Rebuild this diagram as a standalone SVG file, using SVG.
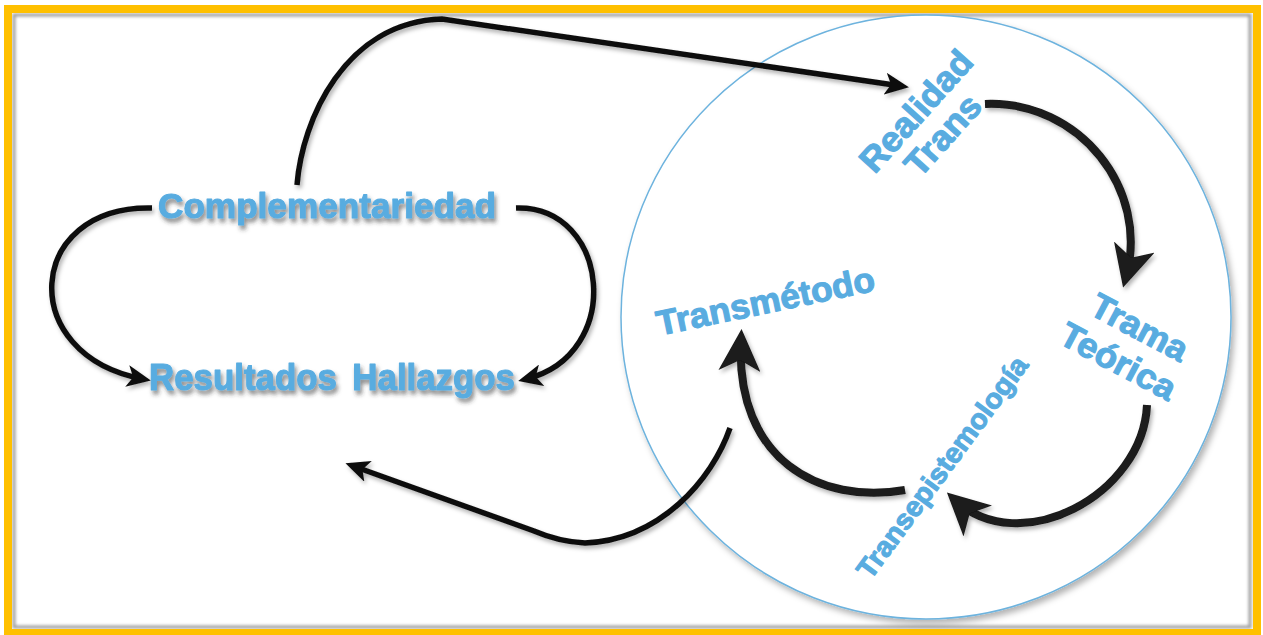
<svg xmlns="http://www.w3.org/2000/svg" width="1263" height="635" viewBox="0 0 1263 635">
<style>
.lbl{font-family:"Liberation Sans",Arial,sans-serif;font-weight:bold;fill:#59ACE0;stroke:#59ACE0;stroke-width:1.1;stroke-linejoin:round;text-anchor:middle}
.ln{fill:none;stroke:#111;stroke-width:5.5}
.lnL{fill:none;stroke:#1a1a1a;stroke-width:8}
</style>
<defs>
<filter id="sh" x="-10%" y="-10%" width="130%" height="140%"><feDropShadow dx="2" dy="4" stdDeviation="2" flood-color="#333" flood-opacity="0.55"/></filter>
<filter id="ash" x="-10%" y="-10%" width="130%" height="130%"><feDropShadow dx="2" dy="3" stdDeviation="2" flood-color="#000" flood-opacity="0.3"/></filter>
<filter id="csh" x="-5%" y="-5%" width="115%" height="115%"><feDropShadow dx="3" dy="4" stdDeviation="3" flood-color="#000" flood-opacity="0.3"/></filter>
<filter id="fb"><feGaussianBlur stdDeviation="1.5"/></filter>
<marker id="ah" viewBox="0 0 24 22" refX="16" refY="11" markerWidth="24" markerHeight="22" markerUnits="userSpaceOnUse" orient="auto"><path d="M0,0 L24,11 L0,22 L6,11 z" fill="#111"/></marker>
<marker id="ahL" viewBox="0 0 42 42" refX="31" refY="21" markerWidth="42" markerHeight="42" markerUnits="userSpaceOnUse" orient="auto"><path d="M0,0 L42,21 L0,42 L11,21 z" fill="#1a1a1a"/></marker>
</defs>
<rect width="1263" height="635" fill="#fff"/>
<rect x="14" y="15" width="1236" height="612" fill="none" stroke="#9a9a9a" stroke-width="3" filter="url(#fb)"/>
<rect x="8" y="9" width="1249" height="624" fill="none" stroke="#FFC000" stroke-width="8"/>
<g id="circle"><ellipse cx="926" cy="317" rx="305" ry="302" fill="#fff" stroke="#6DB3DE" stroke-width="1.5" filter="url(#csh)"/></g>
<g id="connectors" filter="url(#ash)">
<path class="ln" d="M297,185 C302,120 345,22 442,19 L901,86" marker-end="url(#ah)"/>
<path class="ln" d="M152,208 C25,205 15,355 143,379" marker-end="url(#ah)"/>
<path class="ln" d="M516,208 C610,205 625,355 526,379" marker-end="url(#ah)"/>
<path class="ln" d="M730,428 C712,480 660,540 585,543 C565,542 548,537 534,531 L353,466" marker-end="url(#ah)"/>
<path class="lnL" d="M985,104 C1080,100 1150,190 1126,277" marker-end="url(#ahL)"/>
<path class="lnL" d="M1147,405 C1143,495 1020,560 955,500" marker-end="url(#ahL)"/>
<path class="lnL" d="M905,490 C820,505 735,460 741,340" marker-end="url(#ahL)"/>
</g>
<g id="complementariedad" filter="url(#sh)"><text class="lbl" x="327" y="218" font-size="35" textLength="338" lengthAdjust="spacingAndGlyphs">Complementariedad</text></g>
<g id="resultados" filter="url(#sh)"><text class="lbl" x="332" y="390" font-size="36" word-spacing="6" textLength="366" lengthAdjust="spacingAndGlyphs">Resultados Hallazgos</text></g>
<g id="realidad"><text class="lbl" font-size="35" transform="translate(925,119) rotate(-48)"><tspan x="0" y="0" textLength="150" lengthAdjust="spacingAndGlyphs">Realidad</tspan><tspan x="0" y="36" textLength="96" lengthAdjust="spacingAndGlyphs">Trans</tspan></text></g>
<g id="trama"><text class="lbl" font-size="35" transform="translate(1134,338) rotate(28)"><tspan x="0" y="0" textLength="105" lengthAdjust="spacingAndGlyphs">Trama</tspan><tspan x="-3" y="40" textLength="126" lengthAdjust="spacingAndGlyphs">Teórica</tspan></text></g>
<g id="transmetodo"><text class="lbl" font-size="35" transform="translate(768,313) rotate(-11.8)" textLength="222" lengthAdjust="spacingAndGlyphs">Transmétodo</text></g>
<g id="transepistemologia"><text class="lbl" font-size="28" transform="translate(950,473) rotate(-53.6)" textLength="268" lengthAdjust="spacingAndGlyphs">Transepistemología</text></g>
</svg>
